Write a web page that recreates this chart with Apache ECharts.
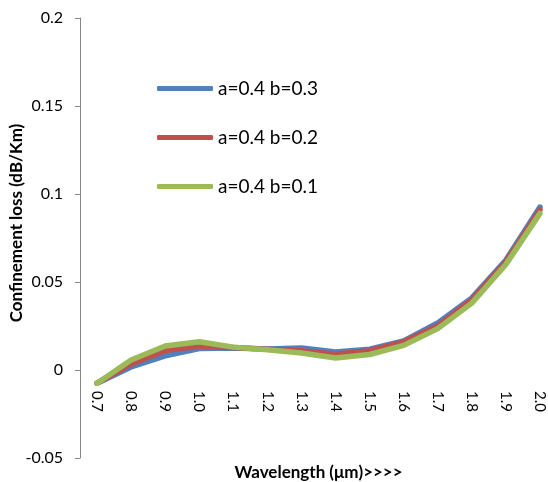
<!DOCTYPE html>
<html>
<head>
<meta charset="utf-8">
<script src="https://cdn.jsdelivr.net/npm/echarts@6/dist/echarts.min.js"></script>
<style>
  html, body { margin: 0; padding: 0; background: #fff; }
  #chart { width: 548px; height: 482px; }
</style>
</head>
<body>
<div id="chart"></div>
<script>
// Wavelength categories (µm)
const wavelengths = ['0.7', '0.8', '0.9', '1.0', '1.1', '1.2', '1.3', '1.4', '1.5', '1.6', '1.7', '1.8', '1.9', '2.0'];

// Confinement loss (dB/Km) for each fibre geometry
const lossB03 = [-0.0075, 0.0017, 0.0080, 0.0122, 0.0125, 0.0120, 0.0125, 0.0102, 0.0118, 0.0165, 0.0267, 0.0410, 0.0625, 0.0926];
const lossB02 = [-0.0075, 0.0034, 0.0110, 0.0136, 0.0128, 0.0118, 0.0110, 0.0090, 0.0110, 0.0160, 0.0250, 0.0400, 0.0615, 0.0910];
const lossB01 = [-0.0075, 0.0057, 0.0136, 0.0160, 0.0130, 0.0115, 0.0097, 0.0068, 0.0088, 0.0140, 0.0235, 0.0380, 0.0600, 0.0890];

const seriesNames = ['a=0.4 b=0.3', 'a=0.4 b=0.2', 'a=0.4 b=0.1'];
const seriesColors = ['#4F81BD', '#C0504D', '#9BBB59'];

// y range and step of the value axis
const yMin = -0.05;
const yMax = 0.2;
const yStep = 0.05;

const FONT = 'Lato';
const GRID_TOP = 18;
const GRID_HEIGHT = 440;

// The category axis sits on the zero line of the value axis
const zeroOffset = -GRID_HEIGHT * (0 - yMin) / (yMax - yMin);

const chart = echarts.init(document.getElementById('chart'), null, { renderer: 'canvas' });

const lineSeries = [lossB03, lossB02, lossB01].map((vals, i) => ({
  name: seriesNames[i],
  type: 'line',
  data: vals,
  symbol: 'none',
  smooth: false,
  lineStyle: { color: seriesColors[i], width: 5.5, cap: 'round', join: 'round' },
  itemStyle: { color: seriesColors[i] },
  z: 2 + i
}));

chart.setOption({
  animation: false,
  backgroundColor: '#ffffff',
  grid: { left: 80, top: GRID_TOP, width: 477, height: GRID_HEIGHT, containLabel: false, outerBoundsMode: 'none' },
  legend: {
    orient: 'vertical',
    left: 152,
    top: 74,
    itemWidth: 56,
    itemHeight: 5,
    itemGap: 30,
    icon: 'roundRect',
    textStyle: { fontFamily: FONT, fontSize: 19, color: '#000' },
    data: seriesNames
  },
  xAxis: {
    type: 'category',
    data: wavelengths,
    boundaryGap: true,
    position: 'bottom',
    offset: zeroOffset,
    name: 'Wavelength (\u03bcm)>>>>',
    nameLocation: 'middle',
    nameGap: 94,
    nameTextStyle: { fontFamily: FONT, fontSize: 17, fontWeight: 'bold', color: '#000' },
    axisLine: { show: false, onZero: false },
    axisTick: { show: false },
    axisLabel: { rotate: -90, margin: 21, fontFamily: FONT, fontSize: 15, color: '#000' },
    splitLine: { show: false }
  },
  yAxis: {
    type: 'value',
    min: yMin,
    max: yMax,
    interval: yStep,
    axisLine: { show: true, lineStyle: { color: '#868686', width: 1 } },
    axisTick: { show: true, inside: false, length: 5, lineStyle: { color: '#868686' } },
    axisLabel: { margin: 17, fontFamily: FONT, fontSize: 16, color: '#000' },
    splitLine: { show: false }
  },
  graphic: [{
    type: 'text',
    x: 17,
    y: 223,
    rotation: Math.PI / 2,
    style: {
      text: 'Confinement loss (dB/Km)',
      fontFamily: FONT,
      fontSize: 17,
      fontWeight: 'bold',
      fill: '#000',
      align: 'center',
      verticalAlign: 'middle'
    }
  }],
  series: lineSeries
});
</script>
</body>
</html>
